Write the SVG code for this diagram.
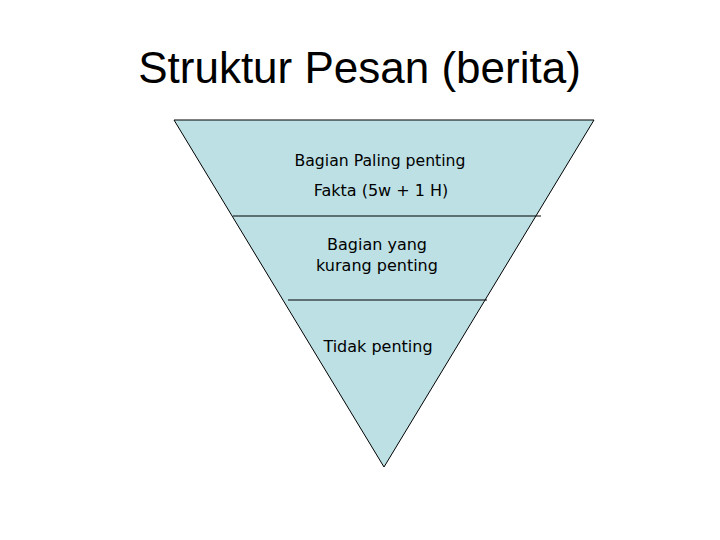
<svg xmlns="http://www.w3.org/2000/svg" width="720" height="540" viewBox="0 0 720 540">
<style>
.title{font-family:"Liberation Sans",Arial,sans-serif;font-size:44px;fill:#000;text-anchor:middle}
.lbl{font-family:"DejaVu Sans","Liberation Sans",sans-serif;font-size:16px;fill:#000;text-anchor:middle}
.sep{stroke:#000;stroke-width:1;fill:none}
</style>
<rect width="720" height="540" fill="#fff"/>
<text class="title" x="359.5" y="83">Struktur Pesan (berita)</text>
<g id="pyramid">
<polygon points="174,120 594,120 384,467" fill="#bde0e5" stroke="#000" stroke-width="1"/>
</g>
<g id="connectors">
<line class="sep" x1="233" y1="216" x2="541" y2="216"/>
<line class="sep" x1="288" y1="300" x2="487" y2="300"/>
</g>
<g id="top">
<text class="lbl" x="380" y="166" textLength="171" lengthAdjust="spacingAndGlyphs">Bagian Paling penting</text>
<text class="lbl" x="381" y="196">Fakta (5w + 1 H)</text>
</g>
<g id="middle">
<text class="lbl" x="377" y="250">Bagian yang</text>
<text class="lbl" x="377" y="271">kurang penting</text>
</g>
<g id="bottom">
<text class="lbl" x="378" y="352">Tidak penting</text>
</g>
</svg>
